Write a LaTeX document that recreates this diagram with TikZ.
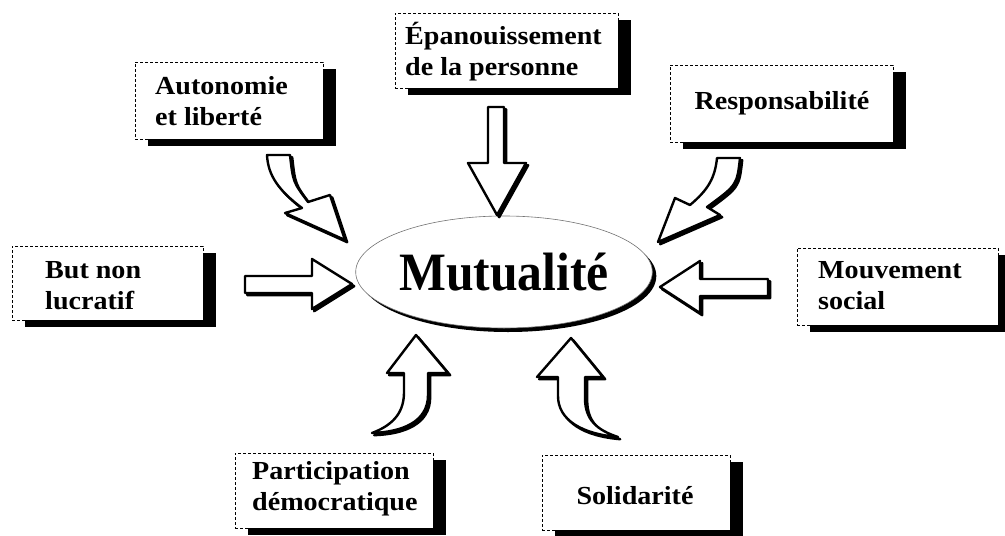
\documentclass[tikz,border=0pt]{standalone}
\usepackage{fontspec}
\setmainfont{Liberation Serif}
\newfontfamily\labfont[FakeStretch=1.08]{Liberation Serif}
\newfontfamily\mutfont[FakeStretch=0.92]{Liberation Serif}
\usetikzlibrary{shapes.geometric,shadows}
\newcommand\barrow[1]{\path[arrsh, shift={(2.2,2.2)}] #1; \path[arr] #1;}
\begin{document}
\begin{tikzpicture}[x=1pt,y=-1pt,
  box/.style={draw=black, line width=0.9pt, densely dashed, fill=white, inner sep=0pt,
    drop shadow={shadow xshift=13pt, shadow yshift=-7pt, opacity=1, fill=black}},
  lab/.style={font=\labfont\bfseries\fontsize{26}{31}\selectfont, align=left, inner sep=0pt},
  arr/.style={fill=white, draw=black, line width=2.4pt, line join=round},
  arrsh/.style={fill=black, draw=black, line width=2.4pt, line join=round}]
\useasboundingbox (0,0) rectangle (1005,536);

% boxes
\node[box, minimum width=188pt, minimum height=77pt] (A) at (229,100.5) {};
\node[box, minimum width=223pt, minimum height=75pt] (E) at (506.5,50.5) {};
\node[box, minimum width=223pt, minimum height=77pt] (R) at (781.5,103.5) {};
\node[box, minimum width=191pt, minimum height=74pt] (B) at (107.5,283) {};
\node[box, minimum width=201pt, minimum height=77pt] (M) at (897.5,286.5) {};
\node[box, minimum width=198pt, minimum height=75pt] (P) at (334,490.5) {};
\node[box, minimum width=188pt, minimum height=75pt] (S) at (636,492.5) {};

% labels
\node[lab, anchor=west] (tA) at (155,101.5) {Autonomie\\et liberté};
\node[lab, anchor=west] (tE) at (405,52) {Épanouissement\\de la personne};
\node[lab] (tR) at (782,103) {Responsabilité};
\node[lab, anchor=west] (tB) at (45,286) {But non\\lucratif};
\node[lab, anchor=west] (tM) at (818,286) {Mouvement\\social};
\node[lab, anchor=west] (tP) at (252,489) {Participation\\démocratique};
\node[lab] (tS) at (635,496) {Solidarité};

% centre
\node[ellipse, draw=black!55, line width=0.6pt, fill=white, inner sep=0pt,
  minimum width=278pt, minimum height=112pt,
  drop shadow={shadow xshift=4pt, shadow yshift=-4pt, opacity=1, fill=black},
  font=\mutfont\bfseries\fontsize{54}{54}\selectfont] (mut) at (504,272) {Mutualité};

% straight block arrows
\barrow{(488,107) -- (504,107) -- (504,163) -- (526,163) -- (497,215) -- (468,163) -- (488,163) -- cycle}
\barrow{(245,276) -- (312,276) -- (312,259) -- (352,284) -- (312,309) -- (312,293) -- (245,293) -- cycle}
\barrow{(768,279) -- (700,279) -- (700,261) -- (660,287) -- (700,313) -- (700,296) -- (768,296) -- cycle}

% curved block arrows
\barrow{(267,155) -- (290,155) .. controls (293,182) .. (308,202) -- (330,195) -- (345,240) -- (285,213) -- (302,208) .. controls (278,190) and (268,175) .. (267,155) -- cycle}
\barrow{(717,158) -- (740,158) .. controls (737,185) .. (707,207) -- (720,215) -- (658,242) -- (675,198) -- (690,205) .. controls (708,190) and (715,178) .. (717,158) -- cycle}
\barrow{(387,373) -- (416,335) -- (448,373) -- (428,373) -- (428,395) .. controls (428,422) and (402,432) .. (372,433) .. controls (396,424) and (404,410) .. (404,392) -- (404,373) -- cycle}
\barrow{(537,377) -- (571,338) -- (603,377) -- (585,377) -- (585,398) .. controls (585,420) and (597,430) .. (618,437) .. controls (582,434) and (558,420) .. (558,396) -- (558,377) -- cycle}
\end{tikzpicture}
\end{document}
